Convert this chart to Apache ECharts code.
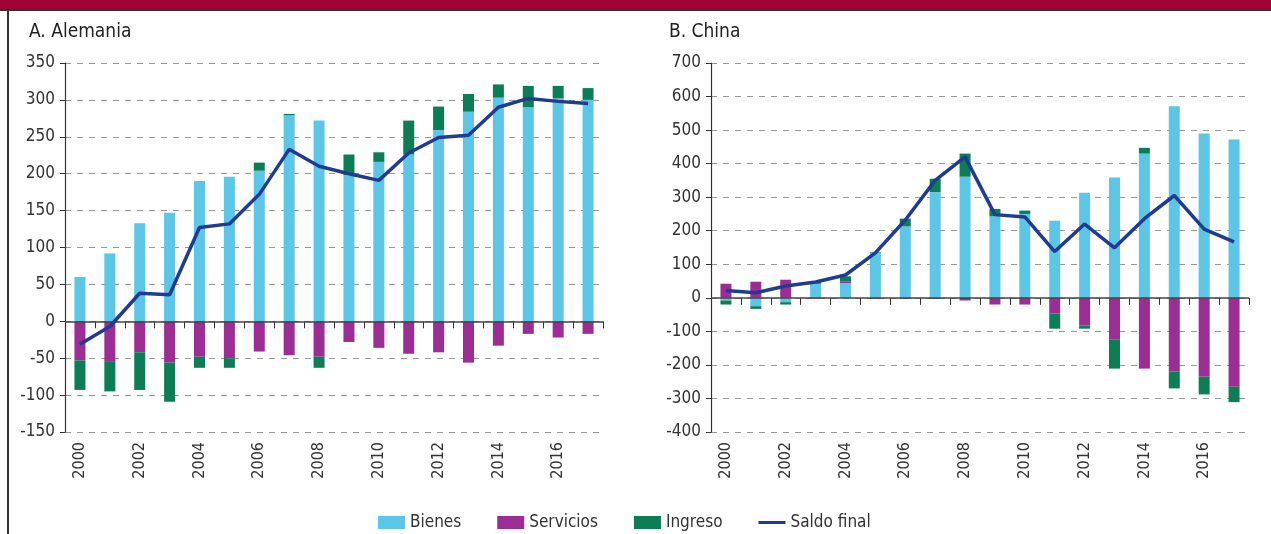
<!DOCTYPE html>
<html>
<head>
<meta charset="utf-8">
<script src="https://cdn.jsdelivr.net/npm/echarts@6/dist/echarts.min.js"></script>
<style>
html,body{margin:0;padding:0;background:#fff;}
#c{width:1271px;height:534px;}
</style>
</head>
<body>
<div id="c"></div>
<script>
var years = ['2000','2001','2002','2003','2004','2005','2006','2007','2008','2009','2010','2011','2012','2013','2014','2015','2016','2017'];

var deBienes    = [60, 92, 133, 147, 190, 196, 204, 279, 272, 198, 216, 226, 259, 284, 303, 290, 302, 300];
var deServicios = [-53, -55, -42, -56, -48, -50, -41, -46, -48, -28, -36, -44, -42, -56, -33, -17, -22, -17];
var deIngreso   = [-40, -40, -51, -53, -15, -13, 11, 2, -15, 28, 13, 46, 32, 24, 18, 29, 17, 16];
var deSaldo     = [-31, -7, 38, 36, 127, 132, 172, 233, 210, 200, 191, 228, 249, 252, 290, 302, 298, 295];

var cnBienes    = [-8, -25, -13, 42, 44, 135, 213, 315, 361, 243, 250, 230, 313, 359, 430, 571, 490, 472];
var cnServicios = [42, 48, 54, -2, 4, -3, -3, -3, -8, -20, -20, -47, -82, -125, -211, -220, -235, -265];
var cnIngreso   = [-12, -8, -7, 6, 16, 2, 23, 40, 69, 22, 10, -45, -10, -86, 17, -50, -53, -46];
var cnSaldo     = [22, 15, 35, 47, 68, 134, 232, 350, 420, 248, 241, 138, 220, 149, 236, 305, 205, 167];

var FONT = "'Liberation Sans Narrow','DejaVu Sans Condensed','Roboto',sans-serif";
var C_BIENES = '#5cc6e6', C_SERV = '#9c2d94', C_ING = '#0b7e55', C_SALDO = '#1f3c92';

function xAxisCfg(gi){
  return {
    type:'category', gridIndex:gi, data:years, boundaryGap:true,
    axisLine:{show:false},
    axisTick:{show:true, interval:0, length:7, lineStyle:{color:'#333', width:1}},
    axisLabel:{interval:1, rotate:90, margin:10, fontFamily:FONT, fontSize:16, color:'#333'},
    splitLine:{show:false}
  };
}
function yAxisCfg(gi, min, max, step){
  return {
    type:'value', gridIndex:gi, min:min, max:max, interval:step,
    axisLine:{show:true, lineStyle:{color:'#333', width:1.2}},
    axisTick:{show:true, length:5, lineStyle:{color:'#333'}},
    axisLabel:{margin:10, fontFamily:FONT, fontSize:17, color:'#333'},
    splitLine:{show:true, lineStyle:{color:'#999', type:[6,6], width:1}}
  };
}
function bar(name, data, color, xi, withZero){
  var s = {
    name:name, type:'bar', stack:'s'+xi, xAxisIndex:xi, yAxisIndex:xi,
    data:data, barWidth:11, itemStyle:{color:color}, animation:false
  };
  if(withZero){
    s.markLine = {silent:true, symbol:'none', label:{show:false},
      lineStyle:{color:'#444', width:1.5, type:'solid'}, data:[{yAxis:0}]};
  }
  return s;
}
function line(data, xi){
  return {name:'Saldo final', type:'line', xAxisIndex:xi, yAxisIndex:xi, data:data,
    symbol:'none', lineStyle:{color:C_SALDO, width:3.5}, itemStyle:{color:C_SALDO}, z:5, animation:false};
}

var chart = echarts.init(document.getElementById('c'), null, {renderer:'canvas'});
chart.setOption({
  backgroundColor:'#fff',
  animation:false,
  title:[
    {text:'A. Alemania', left:24, top:18, textStyle:{fontFamily:FONT, fontSize:19, fontWeight:'normal', color:'#222'}},
    {text:'B. China', left:664, top:18, textStyle:{fontFamily:FONT, fontSize:19, fontWeight:'normal', color:'#222'}}
  ],
  graphic:[
    {type:'rect', shape:{x:0, y:0, width:1271, height:9}, style:{fill:'#a10035'}},
    {type:'line', shape:{x1:0, y1:10, x2:1271, y2:10}, style:{stroke:'#333', lineWidth:2}},
    {type:'line', shape:{x1:8, y1:10, x2:8, y2:534}, style:{stroke:'#333', lineWidth:2}}
  ],
  legend:{
    left:378, top:514, padding:0, itemWidth:27, itemGap:36, itemHeight:13,
    textStyle:{fontFamily:FONT, fontSize:17, color:'#333'},
    data:[{name:'Bienes', icon:'rect'},{name:'Servicios', icon:'rect'},{name:'Ingreso', icon:'rect'},
      {name:'Saldo final', icon:'path://M0,0 L27,0 L27,3 L0,3 Z', itemStyle:{color:C_SALDO}}]
  },
  grid:[
    {left:65, right:668, top:63, bottom:102},
    {left:711, right:22, top:63, bottom:102}
  ],
  xAxis:[xAxisCfg(0), xAxisCfg(1)],
  yAxis:[yAxisCfg(0,-150,350,50), yAxisCfg(1,-400,700,100)],
  series:[
    bar('Bienes', deBienes, C_BIENES, 0, false),
    bar('Servicios', deServicios, C_SERV, 0, false),
    bar('Ingreso', deIngreso, C_ING, 0, true),
    line(deSaldo, 0),
    bar('Bienes', cnBienes, C_BIENES, 1, false),
    bar('Servicios', cnServicios, C_SERV, 1, false),
    bar('Ingreso', cnIngreso, C_ING, 1, true),
    line(cnSaldo, 1)
  ]
});
</script>
</body>
</html>
